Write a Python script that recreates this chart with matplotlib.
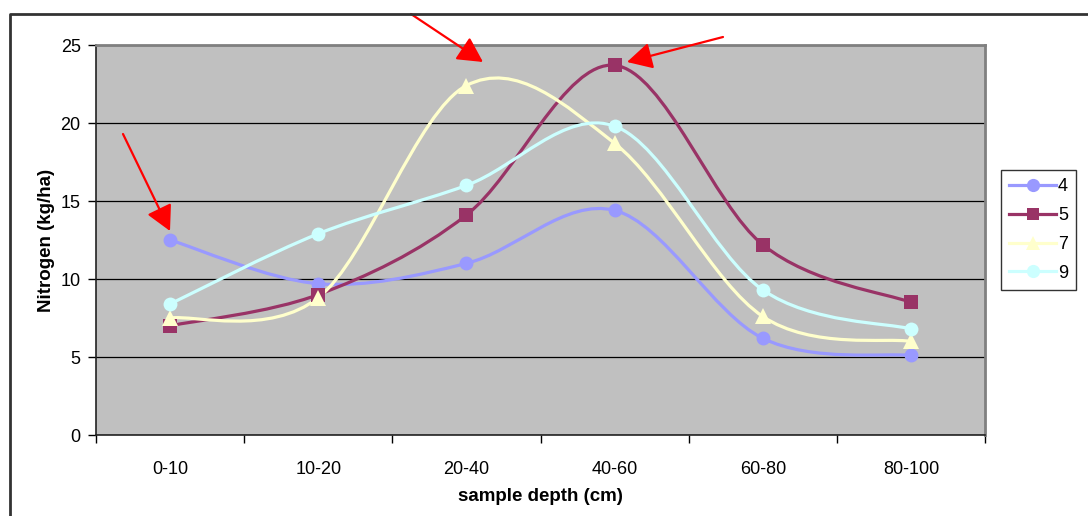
import matplotlib
matplotlib.use("Agg")
import matplotlib.pyplot as plt
from matplotlib.path import Path
from matplotlib.patches import PathPatch
from matplotlib.lines import Line2D
import numpy as np

plt.rcParams['font.family'] = ['Liberation Sans', 'DejaVu Sans']

categories = ["0-10", "10-20", "20-40", "40-60", "60-80", "80-100"]
series_names = ["4", "5", "7", "9"]
s4 = [12.5, 9.7, 11.0, 14.4, 6.2, 5.1]
s5 = [7.0, 9.0, 14.1, 23.7, 12.2, 8.5]
s7 = [7.5, 8.8, 22.4, 18.7, 7.6, 6.0]
s9 = [8.4, 12.9, 16.0, 19.8, 9.3, 6.8]
yticks = [0, 5, 10, 15, 20, 25]

colors = ["#9999FF", "#993366", "#FFFFCC", "#CCFFFF"]
markers = ["o", "s", "^", "o"]

W, H = 1088, 516
fig = plt.figure(figsize=(W / 100, H / 100), dpi=100)
ax = fig.add_axes([96 / W, 1 - 435 / H, (985 - 96) / W, (435 - 45) / H])
ax.set_facecolor("#C0C0C0")

x = np.arange(len(categories))


def smooth_path(xs, ys):
    pts = np.column_stack([xs, ys]).astype(float)
    n = len(pts)
    verts = [pts[0]]
    codes = [Path.MOVETO]
    for i in range(n - 1):
        p0 = pts[i - 1] if i > 0 else pts[i]
        p1 = pts[i]
        p2 = pts[i + 1]
        p3 = pts[i + 2] if i + 2 < n else pts[i + 1]
        c1 = p1 + (p2 - p0) / 6.0
        c2 = p2 - (p3 - p1) / 6.0
        verts += [c1, c2, p2]
        codes += [Path.CURVE4] * 3
    return Path(verts, codes)


handles = []
for name, vals, col, mk in zip(series_names, [s4, s5, s7, s9], colors, markers):
    patch = PathPatch(smooth_path(x, vals), facecolor="none", edgecolor=col,
                      lw=2.3, zorder=3, capstyle="round", joinstyle="round")
    ax.add_patch(patch)
    ms = 11 if mk == "^" else 10
    if mk == "s":
        ms = 9.5
    ax.plot(x, vals, linestyle="none", marker=mk, color=col, ms=ms,
            markeredgewidth=0, zorder=4)
    handles.append(Line2D([], [], color=col, lw=2.3, marker=mk, ms=ms * 0.95,
                          markeredgewidth=0))

ax.set_xlim(-0.5, len(categories) - 0.5)
ax.set_ylim(0, 25)
ax.set_yticks(yticks)
ax.set_yticklabels([str(t) for t in yticks], fontsize=13)
ax.yaxis.grid(True, color="black", lw=0.9)
ax.set_axisbelow(True)
ax.set_xticks(x)
ax.set_xticklabels(categories, fontsize=13)
ax.tick_params(axis="x", length=0, pad=19)
ax.set_xticks(np.arange(len(categories) + 1) - 0.5, minor=True)
ax.tick_params(axis="x", which="minor", length=6, width=1, color="black", direction="out")
ax.tick_params(axis="y", length=6, width=1, color="black", direction="out", pad=5)

for side in ["top", "right"]:
    ax.spines[side].set_color("#808080")
    ax.spines[side].set_linewidth(2)
for side in ["left", "bottom"]:
    ax.spines[side].set_color("#222222")
    ax.spines[side].set_linewidth(1.2)

ax.set_xlabel("sample depth (cm)", fontsize=13.5, fontweight="bold", labelpad=7)
ax.set_ylabel("Nitrogen (kg/ha)", fontsize=13.5, fontweight="bold", labelpad=4)

leg = ax.legend(handles, series_names, loc="center left",
                bbox_to_anchor=(1001 / W, 1 - 230 / H), bbox_transform=fig.transFigure,
                borderaxespad=0, frameon=True, fancybox=False, fontsize=13,
                handlelength=2.6, handletextpad=0.1, labelspacing=0.65,
                borderpad=0.45)
leg.get_frame().set_edgecolor("black")
leg.get_frame().set_linewidth(1)

# chart area border
fig.add_artist(Line2D([10 / W, 10 / W, 1.0], [0.0, 1 - 14 / H, 1 - 14 / H],
                      transform=fig.transFigure, color="#333333", lw=2))

# red arrows (pixel coords from top-left)
arrows = [((123, 134), (170, 231)), ((411, 14), (483, 62)), ((723, 37), (627, 62))]
for (x0, y0), (x1, y1) in arrows:
    ax.annotate("", xy=(x1, H - y1), xytext=(x0, H - y0),
                xycoords="figure pixels", textcoords="figure pixels",
                arrowprops=dict(arrowstyle="-|>,head_length=0.85,head_width=0.45",
                                color="red", lw=1.6, mutation_scale=18,
                                shrinkA=0, shrinkB=0),
                annotation_clip=False, zorder=6)

fig.savefig("out.png", dpi=100)
